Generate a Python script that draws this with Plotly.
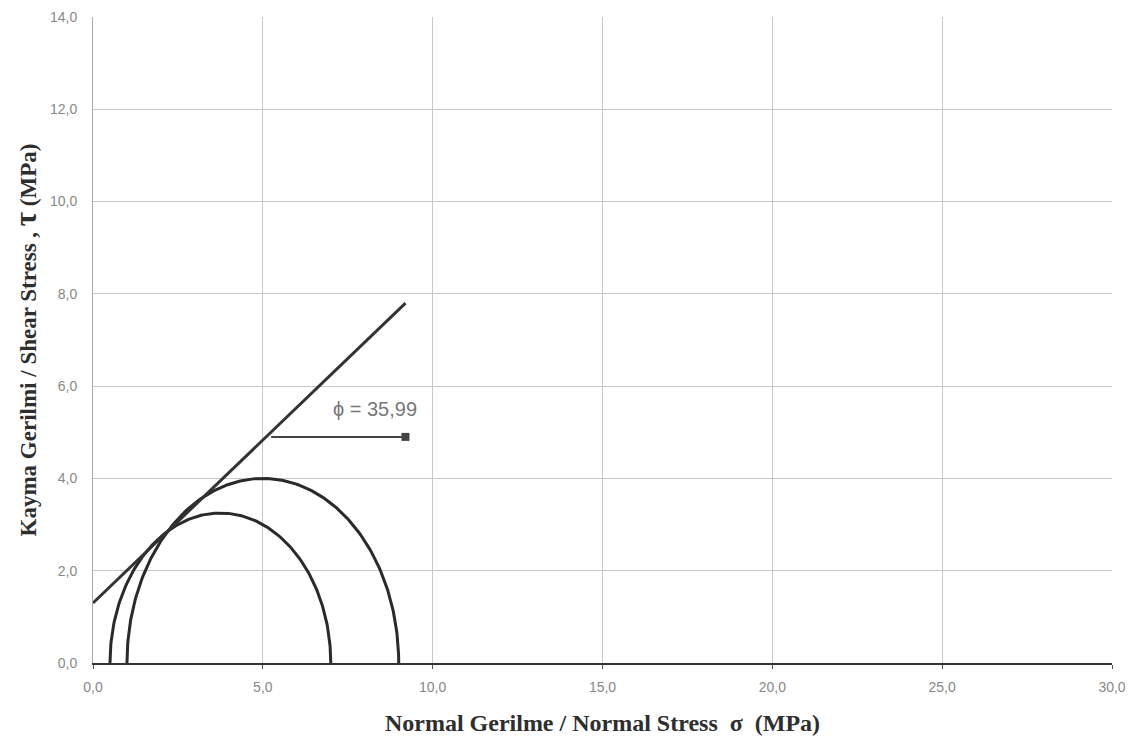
import numpy as np
import plotly.graph_objects as go

# Mohr circles: minor and major principal stresses (MPa)
sigma3 = [0.5, 1.0]
sigma1 = [7.0, 9.0]

# Failure envelope end points (sigma, tau)
env_sigma = [0.0, 9.2]
env_tau = [1.3, 7.8]

# Friction angle annotation
phi_label = "ϕ = 35,99"
arrow_sigma = [5.2, 9.2]
arrow_tau = [4.9, 4.9]

x_ticks = [0, 5, 10, 15, 20, 25, 30]
y_ticks = [0, 2, 4, 6, 8, 10, 12, 14]

W, H = 1133, 746
OFF = 8  # page body margin
ML, MT = 93 - OFF, 17 - OFF
MR = W - (1112 - OFF)
MB = H - (663 - OFF)

fig = go.Figure()

for s3, s1 in zip(sigma3, sigma1):
    c = (s1 + s3) / 2
    r = (s1 - s3) / 2
    th = np.linspace(np.pi, 0, 181)
    fig.add_trace(go.Scatter(x=c + r * np.cos(th), y=r * np.sin(th), mode="lines",
                             line=dict(color="#2a2a2a", width=3), showlegend=False, hoverinfo="skip"))

fig.add_trace(go.Scatter(x=env_sigma, y=env_tau, mode="lines",
                         line=dict(color="#333333", width=3), showlegend=False, hoverinfo="skip"))

fig.add_annotation(x=arrow_sigma[1], y=arrow_tau[1], ax=arrow_sigma[0], ay=arrow_tau[0],
                   xref="x", yref="y", axref="x", ayref="y", text="", showarrow=True,
                   arrowhead=7, arrowsize=1.0, arrowwidth=2, arrowcolor="#444444")
fig.add_annotation(x=8.3, y=5.5, xref="x", yref="y", text=phi_label, showarrow=False,
                   font=dict(family="Liberation Sans, Arial", size=20, color="#777777"))

fig.update_layout(
    width=W, height=H,
    margin=dict(l=ML, r=MR, t=MT, b=MB),
    paper_bgcolor="white", plot_bgcolor="white",
    separators=",.",
    xaxis=dict(range=[0, 30], tickvals=x_ticks, tickformat=".1f", automargin=False,
               showgrid=True, gridcolor="#c8c8c8", gridwidth=1,
               showline=True, linecolor="#333333", linewidth=2,
               ticks="outside", ticklen=4, tickcolor="#555555", ticklabelstandoff=6,
               tickfont=dict(family="Liberation Sans, Arial", size=14, color="#888888"),
               title=dict(text="<b>Normal Gerilme / Normal Stress  σ  (MPa)</b>",
                          font=dict(family="Liberation Serif, Times New Roman", size=24, color="#2e2e2e"),
                          standoff=20),
               zeroline=False, mirror=False),
    yaxis=dict(range=[0, 14], tickvals=y_ticks, tickformat=".1f", automargin=False,
               showgrid=True, gridcolor="#c8c8c8", gridwidth=1,
               showline=True, linecolor="#aaaaaa", linewidth=1,
               ticks="", ticklabelstandoff=12,
               tickfont=dict(family="Liberation Sans, Arial", size=14, color="#888888"),
               title=dict(text="<b>Kayma Gerilmi / Shear Stress , <span style='font-size:31px'>τ</span> (MPa)</b>",
                          font=dict(family="Liberation Serif, Times New Roman", size=23, color="#2e2e2e"),
                          standoff=14),
               zeroline=False),
)

fig.write_html("out.html")
